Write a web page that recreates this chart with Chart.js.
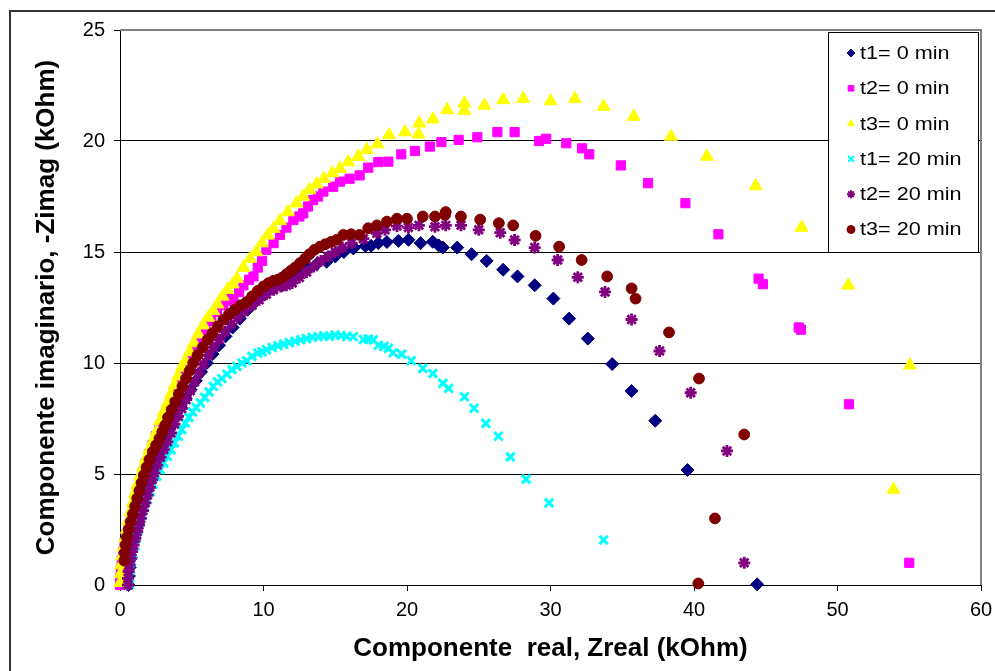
<!DOCTYPE html>
<html>
<head>
<meta charset="utf-8">
<title>Componente real vs imaginario</title>
<script src="https://cdn.jsdelivr.net/npm/chart.js@4/dist/chart.umd.min.js"></script>
<style>
  html, body { margin: 0; padding: 0; background: #fff; }
  canvas { display: block; }
</style>
</head>
<body>
<canvas id="chart" width="995" height="671"></canvas>
<script>
// values: [Zreal, -Zimag] in kOhm
const t1_0min = [
  [0.6,0.0],[0.62,0.4],[0.68,0.8],[0.76,1.2],[0.86,1.6],[0.98,2.0],[1.1,2.4],[1.25,2.8],[1.4,3.2],[1.58,3.6],
  [1.76,4.0],[1.95,4.4],[2.15,4.8],[2.38,5.2],[2.6,5.6],[2.85,6.0],[3.1,6.4],[3.38,6.8],[3.65,7.2],[3.95,7.6],
  [4.25,8.0],[4.58,8.4],[4.92,8.8],[5.28,9.2],[5.65,9.6],[6.05,10.0],[6.45,10.4],[6.9,10.8],[7.35,11.2],[7.85,11.6],
  [8.35,12.0],[8.9,12.4],[9.5,12.8],[10.1,13.1],[10.7,13.35],[11.3,13.5],[11.9,13.75],[12.5,14.0],[13.1,14.25],[13.7,14.45],
  [14.4,14.56],[15.0,14.8],[15.6,15.0],[16.26,15.16],[16.3,15.2],[17.1,15.27],[17.5,15.28],[18.0,15.4],[18.6,15.45],[19.4,15.5],
  [20.1,15.55],[20.95,15.4],[21.8,15.46],[22.2,15.3],[22.5,15.2],[23.5,15.2],[24.5,14.9],[25.55,14.6],[26.7,14.2],[27.7,13.9],
  [28.9,13.5],[30.2,12.9],[31.3,12.0],[32.6,11.1],[34.3,9.95],[35.65,8.74],[37.3,7.4],[39.55,5.18],[44.4,0.03]
];
const t2_0min = [
  [0.0,0.0],[0.02,0.3],[0.06,0.7],[0.12,1.1],[0.22,1.5],[0.33,1.9],[0.46,2.3],[0.6,2.7],[0.75,3.1],[0.9,3.5],
  [1.06,3.9],[1.22,4.3],[1.4,4.7],[1.6,5.1],[1.8,5.5],[2.02,5.9],[2.26,6.3],[2.5,6.7],[2.75,7.1],[3.0,7.5],
  [3.25,7.9],[3.5,8.3],[3.78,8.7],[4.05,9.1],[4.33,9.5],[4.62,9.9],[4.92,10.3],[5.25,10.7],[5.6,11.1],[5.95,11.5],
  [6.35,11.9],[6.75,12.3],[7.2,12.6],[7.6,12.9],[7.9,12.8],[8.3,13.2],[8.6,13.5],[9.0,13.75],[9.3,13.9],[9.6,14.3],
  [9.9,14.6],[10.2,15.1],[10.7,15.4],[11.15,15.77],[11.6,16.1],[12.08,16.44],[12.5,16.6],[12.77,16.74],[13.1,17.05],[13.46,17.34],
  [13.8,17.5],[14.17,17.72],[14.86,17.94],[15.33,18.17],[16.0,18.3],[16.7,18.45],[17.3,18.8],[18.0,19.05],[18.7,19.07],[19.6,19.4],
  [20.55,19.55],[21.6,19.75],[22.4,19.95],[23.6,20.05],[24.9,20.17],[26.3,20.4],[27.5,20.4],[29.2,20.0],[29.7,20.1],[31.1,19.9],
  [32.2,19.67],[32.7,19.4],[34.9,18.9],[36.8,18.1],[39.4,17.2],[41.7,15.8],[44.5,13.8],[44.8,13.55],[47.3,11.6],[47.45,11.5],
  [50.8,8.14],[55.0,1.0]
];
const t3_0min = [
  [0.02,0.1],[0.04,0.5],[0.08,0.9],[0.15,1.3],[0.25,1.7],[0.36,2.1],[0.48,2.5],[0.6,2.9],[0.74,3.3],[0.88,3.7],
  [1.02,4.1],[1.2,4.5],[1.4,4.9],[1.6,5.3],[1.82,5.7],[2.05,6.1],[2.3,6.5],[2.55,6.9],[2.8,7.4],[3.05,7.8],
  [3.3,8.2],[3.55,8.6],[3.8,9.0],[4.05,9.4],[4.3,9.8],[4.55,10.1],[4.85,10.5],[5.15,10.9],[5.45,11.3],[5.8,11.7],
  [6.15,12.05],[6.5,12.35],[6.8,12.65],[7.15,13.0],[7.5,13.3],[7.85,13.55],[8.15,13.8],[8.6,14.3],[9.06,14.7],[9.5,15.0],
  [9.9,15.4],[10.3,15.75],[10.7,16.05],[11.15,16.4],[11.7,16.8],[12.3,17.2],[12.77,17.5],[13.2,17.8],[13.7,18.05],[14.2,18.3],
  [14.8,18.55],[15.33,18.75],[15.9,19.05],[16.6,19.3],[17.2,19.6],[17.95,19.86],[18.75,20.27],[19.86,20.4],[20.8,20.3],[20.85,20.8],
  [21.8,20.98],[22.8,21.4],[24.0,21.37],[24.0,21.7],[25.4,21.6],[26.7,21.85],[28.1,21.9],[30.0,21.8],[31.7,21.9],[33.7,21.55],
  [35.8,21.1],[38.4,20.2],[40.9,19.3],[44.3,17.97],[47.5,16.1],[50.75,13.5],[55.05,9.9],[53.9,4.3]
];
const t1_20min = [
  [0.65,0.0],[0.67,0.35],[0.72,0.7],[0.8,1.05],[0.9,1.4],[1.0,1.75],[1.12,2.1],[1.25,2.45],[1.4,2.8],[1.56,3.15],
  [1.72,3.5],[1.9,3.85],[2.1,4.2],[2.3,4.55],[2.55,4.9],[2.8,5.2],[3.05,5.5],[3.3,5.8],[3.55,6.1],[3.8,6.4],
  [4.05,6.7],[4.3,7.0],[4.55,7.3],[4.8,7.55],[5.05,7.8],[5.3,8.0],[5.6,8.2],[5.9,8.45],[6.2,8.7],[6.5,8.95],
  [6.8,9.15],[7.1,9.3],[7.45,9.5],[7.8,9.7],[8.15,9.85],[8.5,10.0],[8.83,10.1],[9.2,10.3],[9.6,10.45],[9.9,10.5],
  [10.2,10.6],[10.6,10.7],[11.0,10.78],[11.4,10.85],[11.8,10.92],[12.2,10.98],[12.6,11.05],[13.0,11.1],[13.4,11.16],[13.8,11.18],
  [14.2,11.22],[14.6,11.2],[15.0,11.26],[15.4,11.24],[15.8,11.2],[16.26,11.18],[16.96,11.06],[17.3,11.08],[17.65,11.04],[18.0,10.8],
  [18.4,10.75],[18.7,10.66],[19.04,10.46],[19.63,10.4],[20.3,10.1],[21.1,9.76],[21.8,9.53],[22.5,9.08],[22.9,8.86],[24.0,8.48],
  [24.67,7.96],[25.5,7.28],[26.37,6.7],[27.2,5.77],[28.3,4.77],[29.9,3.7],[33.7,2.03]
];
const t2_20min = [
  [0.55,0.0],[0.56,0.3],[0.6,0.6],[0.66,0.9],[0.74,1.2],[0.84,1.5],[0.95,1.8],[1.07,2.1],[1.2,2.4],[1.32,2.7],
  [1.45,3.0],[1.6,3.35],[1.76,3.7],[1.92,4.05],[2.08,4.4],[2.24,4.75],[2.4,5.05],[2.6,5.4],[2.82,5.75],[3.05,6.1],
  [3.3,6.45],[3.55,6.85],[3.8,7.25],[4.05,7.6],[4.3,7.95],[4.6,8.35],[4.9,8.75],[5.2,9.15],[5.5,9.55],[5.8,9.95],
  [6.15,10.35],[6.5,10.7],[6.9,11.05],[7.3,11.4],[7.75,11.75],[8.2,12.05],[8.7,12.35],[9.2,12.6],[9.7,12.85],[10.2,13.1],
  [10.7,13.3],[11.2,13.45],[11.6,13.5],[12.0,13.6],[12.5,13.85],[13.0,14.1],[13.5,14.35],[14.0,14.6],[14.5,14.8],[15.0,15.0],
  [15.5,15.2],[16.14,15.4],[16.96,15.6],[17.9,15.84],[18.47,16.0],[19.3,16.17],[20.1,16.1],[20.83,16.2],[21.95,16.14],[22.7,16.2],
  [23.76,16.2],[25.0,16.0],[26.5,15.87],[27.5,15.54],[28.9,15.2],[30.5,14.64],[31.9,13.86],[33.8,13.2],[35.65,11.96],[37.6,10.54],
  [39.77,8.66],[42.3,6.04],[43.5,1.0]
];
const t3_20min = [
  [0.3,1.1],[0.32,1.45],[0.38,1.8],[0.48,2.15],[0.6,2.5],[0.74,2.85],[0.9,3.2],[1.05,3.55],[1.2,3.9],[1.35,4.25],
  [1.5,4.6],[1.66,4.95],[1.85,5.3],[2.05,5.65],[2.28,6.0],[2.52,6.3],[2.75,6.6],[2.95,6.9],[3.15,7.2],[3.35,7.55],
  [3.6,7.9],[3.85,8.25],[4.1,8.6],[4.35,8.95],[4.6,9.3],[4.85,9.65],[5.1,10.0],[5.4,10.35],[5.75,10.7],[6.1,11.05],
  [6.45,11.35],[6.8,11.65],[7.2,11.95],[7.6,12.2],[8.0,12.4],[8.4,12.6],[8.83,12.75],[9.2,13.0],[9.6,13.25],[10.0,13.45],
  [10.35,13.6],[10.68,13.7],[11.0,13.75],[11.3,13.85],[11.6,14.0],[11.9,14.15],[12.2,14.3],[12.54,14.5],[12.9,14.7],[13.2,14.9],
  [13.55,15.1],[13.94,15.24],[14.3,15.35],[14.7,15.45],[15.1,15.55],[15.56,15.77],[16.1,15.8],[16.7,15.77],[17.3,16.07],[17.9,16.2],
  [18.6,16.37],[19.3,16.5],[20.0,16.5],[21.1,16.6],[21.95,16.6],[22.65,16.67],[22.7,16.8],[23.76,16.6],[25.1,16.46],[26.4,16.3],
  [27.4,16.2],[28.96,15.73],[30.6,15.24],[32.17,14.64],[33.95,13.9],[35.65,13.36],[35.93,12.9],[38.26,11.38],[40.35,9.3],[43.5,6.78],
  [41.46,3.0],[40.3,0.07]
];

const seriesNames = ["t1= 0 min", "t2= 0 min", "t3= 0 min", "t1= 20 min", "t2= 20 min", "t3= 20 min"];
const seriesData = [t1_0min, t2_0min, t3_0min, t1_20min, t2_20min, t3_20min];
const xTickValues = [0, 10, 20, 30, 40, 50, 60];
const yTickValues = [0, 5, 10, 15, 20, 25];

// look of each series (Excel default marker set)
const colors = ["#000080", "#FF00FF", "#FFFF00", "#00FFFF", "#800080", "#800000"];
const shapes = ["rectRot", "rect", "triangle", "crossRot", "star", "circle"];
const sizes = [6.5, 6.5, 7.5, 6, 6, 5.4];
const strokes = [1, 1, 1, 3, 2.8, 1];

const FONT = "'Liberation Sans', Arial, sans-serif";

const datasets = seriesData.map((pts, i) => ({
    label: seriesNames[i],
    data: pts.map(p => ({ x: p[0], y: p[1] })),
    showLine: false,
    pointStyle: shapes[i],
    pointRadius: sizes[i],
    pointBackgroundColor: colors[i],
    pointBorderColor: colors[i],
    pointBorderWidth: strokes[i],
    backgroundColor: colors[i],
    borderColor: colors[i],
    clip: false,
    order: -i   // later series on top, like the original
}));

// outer frame + grey top/right edge of plot area
const frame = {
    id: "frame",
    beforeDraw(chart) {
        const ctx = chart.ctx;
        ctx.save();
        ctx.fillStyle = "#fff";
        ctx.fillRect(0, 0, chart.width, chart.height);
        ctx.strokeStyle = "#333";
        ctx.lineWidth = 2;
        ctx.beginPath();
        ctx.moveTo(10, chart.height);
        ctx.lineTo(10, 11);
        ctx.lineTo(chart.width, 11);
        ctx.stroke();
        ctx.restore();
    },
    beforeDatasetsDraw(chart) {
        const { ctx, chartArea: a } = chart;
        ctx.save();
        ctx.strokeStyle = "#808080";
        ctx.lineWidth = 2;
        ctx.beginPath();
        ctx.moveTo(a.left, a.top);
        ctx.lineTo(a.right, a.top);
        ctx.lineTo(a.right, a.bottom);
        ctx.stroke();
        ctx.restore();
    }
};

// boxed legend inside the plot, top right
const legendBox = {
    id: "legendBox",
    afterDatasetsDraw(chart) {
        const { ctx, chartArea: a } = chart;
        const w = 150, h = 220;
        const x0 = a.right - w - 3, y0 = a.top + 2;
        ctx.save();
        ctx.fillStyle = "#fff";
        ctx.fillRect(x0, y0, w, h);
        ctx.strokeStyle = "#000";
        ctx.lineWidth = 1;
        ctx.strokeRect(x0 + 0.5, y0 + 0.5, w, h);
        chart.data.datasets.forEach((ds, i) => {
            const cy = y0 + 21 + i * 35.3;
            ctx.fillStyle = ds.pointBackgroundColor;
            ctx.strokeStyle = ds.pointBorderColor;
            ctx.lineWidth = Math.min(ds.pointBorderWidth, 2);
            Chart.helpers.drawPoint(ctx, {
                pointStyle: ds.pointStyle,
                radius: 4,
                rotation: 0,
                borderWidth: ds.pointBorderWidth
            }, x0 + 23, cy);
            // label text is a little wide in the original
            ctx.save();
            ctx.translate(x0 + 32, cy + 1);
            ctx.scale(1.2, 1);
            ctx.fillStyle = "#000";
            ctx.font = "18px " + FONT;
            ctx.textBaseline = "middle";
            ctx.textAlign = "left";
            ctx.fillText(ds.label, 0, 0);
            ctx.restore();
        });
        ctx.restore();
    }
};

new Chart(document.getElementById("chart"), {
    type: "scatter",
    data: { datasets },
    options: {
        responsive: false,
        animation: false,
        events: [],
        layout: { padding: { left: 0, top: 30, right: 14, bottom: 0 } },
        plugins: {
            legend: { display: false },
            tooltip: { enabled: false }
        },
        scales: {
            x: {
                type: "linear",
                min: 0,
                max: 60,
                afterBuildTicks: s => { s.ticks = xTickValues.map(v => ({ value: v })); },
                afterFit: s => { s.height = 86; s.paddingLeft = 0; s.paddingRight = 0; },
                grid: { drawOnChartArea: false, drawTicks: true, tickLength: 6, color: "#000" },
                border: { color: "#000", width: 1 },
                ticks: { color: "#000", font: { family: FONT, size: 20 }, padding: 7, maxRotation: 0 },
                title: {
                    display: true,
                    text: "Componente  real, Zreal (kOhm)",
                    color: "#000",
                    font: { family: FONT, size: 26, weight: "bold" },
                    padding: { top: 0, bottom: 7 }
                }
            },
            y: {
                type: "linear",
                min: 0,
                max: 25,
                afterBuildTicks: s => { s.ticks = yTickValues.map(v => ({ value: v })); },
                afterFit: s => { s.width = 120; s.paddingTop = 0; s.paddingBottom = 0; },
                grid: { color: "#000", lineWidth: 1, drawTicks: true, tickLength: 6 },
                border: { color: "#000", width: 1 },
                ticks: { color: "#000", font: { family: FONT, size: 20 }, padding: 9 },
                title: {
                    display: true,
                    text: "Componente imaginario, -Zimag (kOhm)",
                    color: "#000",
                    font: { family: FONT, size: 26, weight: "bold" },
                    padding: { top: 31, bottom: 0 }
                }
            }
        }
    },
    plugins: [frame, legendBox]
});
</script>
</body>
</html>
